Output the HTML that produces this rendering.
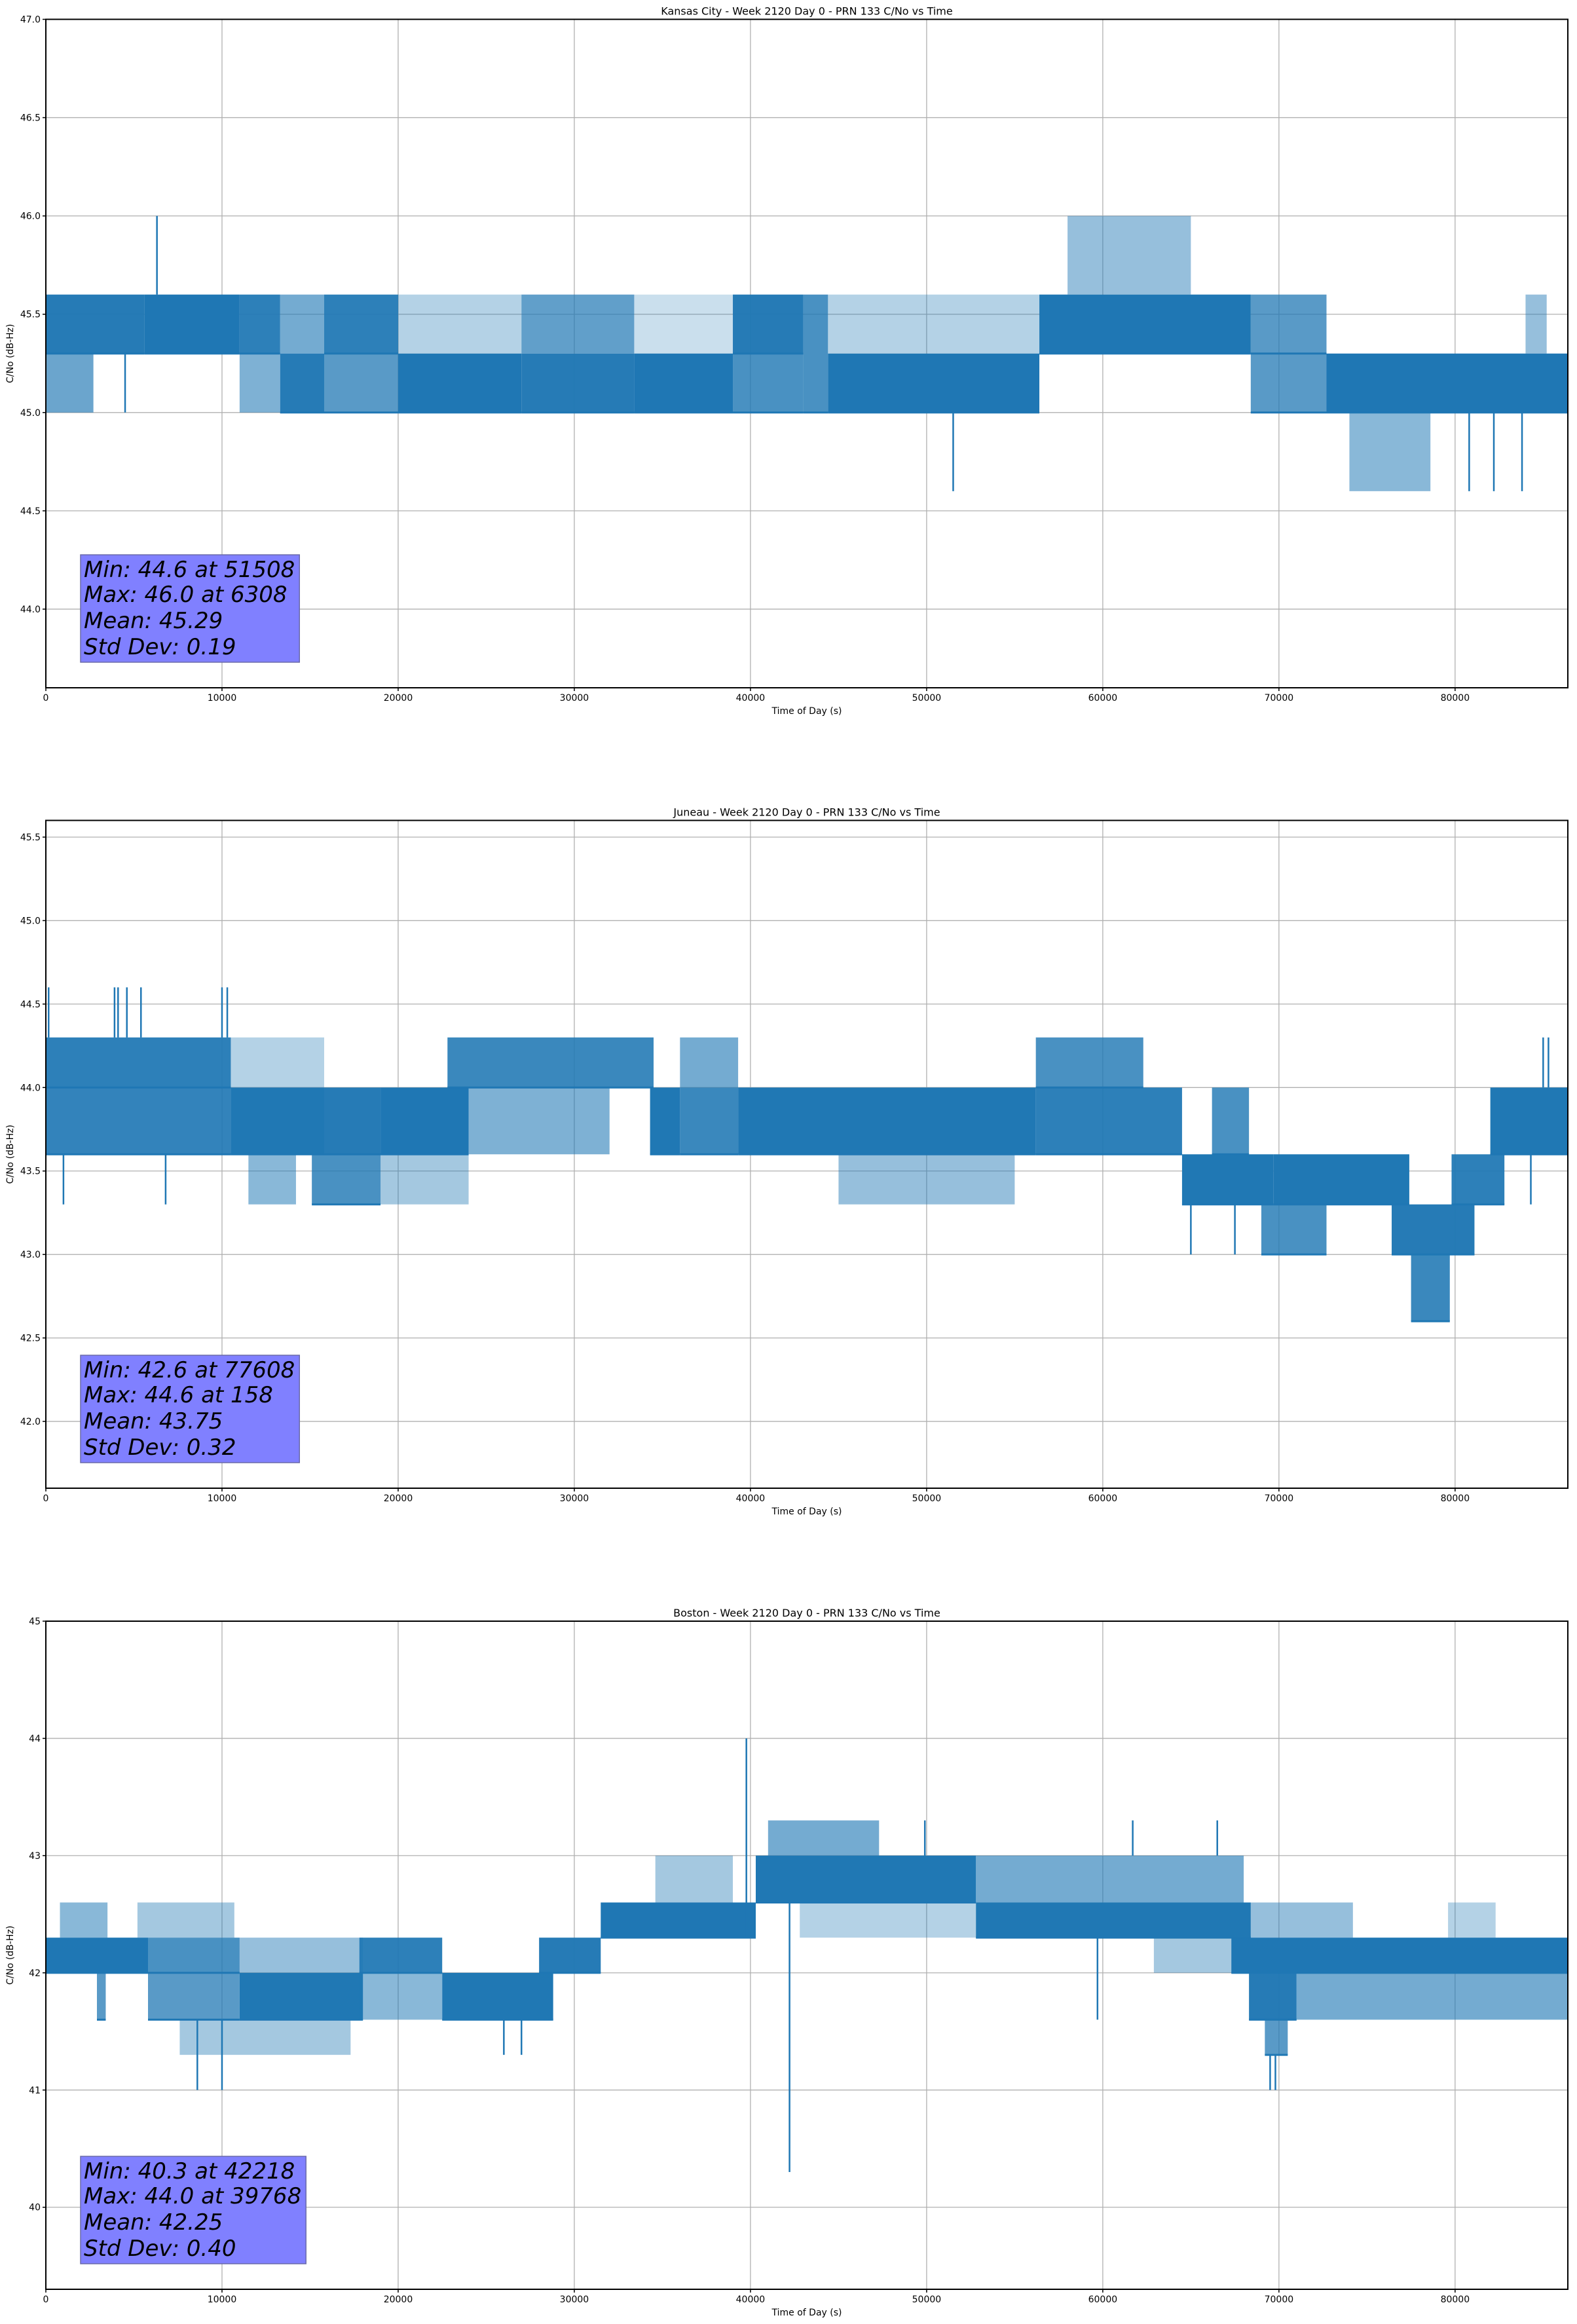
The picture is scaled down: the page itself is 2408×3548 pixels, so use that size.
<!DOCTYPE html>
<html><head><meta charset="utf-8">
<style>
html,body{margin:0;padding:0;background:#fff;}
svg{display:block;font-family:"DejaVu Sans","Liberation Sans",sans-serif;}
</style></head>
<body>
<svg id="fig" width="2408" height="3548" viewBox="0 0 2408 3548" xmlns="http://www.w3.org/2000/svg">
<rect width="2408" height="3548" fill="#fff"/>
</svg>
<script>
// ---------- Kansas City ----------
const p1Title = "Kansas City - Week 2120 Day 0 - PRN 133 C/No vs Time";
const p1SegStart = [0,0,5600,11000,11000,13300,13300,15800,15800,20000,20000,27000,27000,33400,33400,39000,39000,43000,44400,44400,56400,58000,68400,68400,72700,74000,84000];
const p1SegEnd   = [5600,2700,11000,13300,13300,15800,15800,20000,20000,27000,27000,33400,33400,39000,39000,43000,43000,44400,56400,56400,68400,65000,72700,72700,86400,78600,85200];
const p1SegLo    = [45.3,45.0,45.3,45.3,45.0,45.0,45.3,45.3,45.0,45.0,45.3,45.0,45.3,45.0,45.3,45.3,45.0,45.0,45.0,45.3,45.3,45.6,45.3,45.0,45.0,44.6,45.3];
const p1SegHi    = [45.6,45.3,45.6,45.6,45.3,45.3,45.6,45.6,45.3,45.3,45.6,45.3,45.6,45.3,45.6,45.6,45.3,45.6,45.3,45.6,45.6,46.0,45.6,45.3,45.3,45.0,45.6];
const p1SegDens  = [0.85,0.4,1,0.8,0.3,0.85,0.35,0.8,0.5,0.95,0.1,0.85,0.45,1,0.05,0.85,0.6,0.6,0.95,0.1,0.97,0.2,0.5,0.5,0.92,0.25,0.2];
const p1SpikeT    = [6308,4500,51508,80800,82200,83800];
const p1SpikeFrom = [45.6,45.3,45.0,45.0,45.0,45.0];
const p1SpikeTo   = [46.0,45.0,44.6,44.6,44.6,44.6];
const p1YTicks = ["44.0","44.5","45.0","45.5","46.0","46.5","47.0"];
const p1Stats = ["Min: 44.6 at 51508","Max: 46.0 at 6308","Mean: 45.29","Std Dev: 0.19"];

// ---------- Juneau ----------
const p2Title = "Juneau - Week 2120 Day 0 - PRN 133 C/No vs Time";
const p2SegStart = [0,0,10500,10500,11500,15100,15800,19000,19000,22800,24000,34300,36000,36000,39300,45000,56200,56200,64500,66200,69000,69700,76400,77500,79800,82000];
const p2SegEnd   = [10500,10500,15800,15800,14200,19000,19000,24000,24000,34500,32000,36000,39300,39300,56200,55000,62300,64500,69700,68300,72700,77400,81100,79700,82800,86400];
const p2SegLo    = [44.0,43.6,43.6,44.0,43.3,43.3,43.6,43.6,43.3,44.0,43.6,43.6,44.0,43.6,43.6,43.3,44.0,43.6,43.3,43.6,43.0,43.3,43.0,42.6,43.3,43.6];
const p2SegHi    = [44.3,44.0,44.0,44.3,43.6,43.6,44.0,44.0,43.6,44.3,44.0,44.0,44.3,44.0,44.0,43.6,44.3,44.0,43.6,44.0,43.3,43.6,43.3,43.0,43.6,44.0];
const p2SegDens  = [0.8,0.75,0.9,0.1,0.25,0.6,0.85,0.95,0.15,0.7,0.3,0.9,0.35,0.7,0.9,0.2,0.6,0.8,0.9,0.6,0.6,0.9,0.85,0.7,0.8,0.9];
const p2SpikeT    = [158,3900,4100,4600,5400,10000,10300,1000,6800,65000,67500,85000,85300,84300];
const p2SpikeFrom = [44.3,44.3,44.3,44.3,44.3,44.3,44.3,43.6,43.6,43.3,43.3,44.0,44.0,43.6];
const p2SpikeTo   = [44.6,44.6,44.6,44.6,44.6,44.6,44.6,43.3,43.3,43.0,43.0,44.3,44.3,43.3];
const p2YTicks = ["42.0","42.5","43.0","43.5","44.0","44.5","45.0","45.5"];
const p2Stats = ["Min: 42.6 at 77608","Max: 44.6 at 158","Mean: 43.75","Std Dev: 0.32"];

// ---------- Boston ----------
const p3Title = "Boston - Week 2120 Day 0 - PRN 133 C/No vs Time";
const p3SegStart = [0,800,2900,5800,5800,5200,7600,11000,11000,17800,17800,22500,28000,31500,34600,40300,41000,42800,52800,52800,62900,67300,68300,71000,68400,79600,69200];
const p3SegEnd   = [5800,3500,3400,11000,11000,10700,17300,18000,18000,22500,22500,28800,31500,40300,39000,52800,47300,52800,68400,68000,67600,86400,71000,86400,74200,82300,70500];
const p3SegLo    = [42.0,42.3,41.6,42.0,41.6,42.3,41.3,41.6,42.0,42.0,41.6,41.6,42.0,42.3,42.6,42.6,43.0,42.3,42.3,42.6,42.0,42.0,41.6,41.6,42.3,42.3,41.3];
const p3SegHi    = [42.3,42.6,42.0,42.3,42.0,42.6,41.6,42.0,42.3,42.3,42.0,42.0,42.3,42.6,43.0,43.0,43.3,42.6,42.6,43.0,42.3,42.3,42.0,42.0,42.6,42.6,41.6];
const p3SegDens  = [0.95,0.25,0.5,0.6,0.5,0.15,0.15,0.9,0.2,0.8,0.25,0.9,0.85,0.92,0.15,0.9,0.35,0.1,0.9,0.35,0.15,0.92,0.85,0.35,0.2,0.1,0.5];
const p3SpikeT    = [39768,42218,8600,10000,26000,27000,69500,69800,59700,49900,61700,66500];
const p3SpikeFrom = [42.3,42.6,41.6,41.6,41.6,41.6,41.3,41.3,42.3,43.0,43.0,43.0];
const p3SpikeTo   = [44.0,40.3,41.0,41.0,41.3,41.3,41.0,41.0,41.6,43.3,43.3,43.3];
const p3YTicks = ["40","41","42","43","44","45"];
const p3Stats = ["Min: 40.3 at 42218","Max: 44.0 at 39768","Mean: 42.25","Std Dev: 0.40"];

const xTicks = [0,10000,20000,30000,40000,50000,60000,70000,80000];
const xMax = 86400;

const NS = "http://www.w3.org/2000/svg";
const svg = document.getElementById('fig');
function mk(tag, attrs, parent){
  const e = document.createElementNS(NS, tag);
  for (const k in attrs) e.setAttribute(k, attrs[k]);
  (parent||svg).appendChild(e);
  return e;
}

function drawPlot(cfg){
  const L = 70, R = 2394, T = cfg.top, B = cfg.bottom;
  const sx = v => L + (v / xMax) * (R - L);
  const sy = v => B - (v - cfg.ymin) / (cfg.ymax - cfg.ymin) * (B - T);
  const g = mk('g', {});
  
  
  xTicks.forEach(t => {
    const l = mk('line', {x1:sx(t), x2:sx(t), y1:T, y2:B, stroke:'#b0b0b0', 'stroke-width':1.3}, g);
    
    
  });
  cfg.yTicks.forEach(t => {
    const v = parseFloat(t);
    const l = mk('line', {x1:L, x2:R, y1:sy(v), y2:sy(v), stroke:'#b0b0b0', 'stroke-width':1.3}, g);
    
    
  });
  const dg = mk('g', {}, g);
  
  
  for (let i = 0; i < cfg.segStart.length; i++){
    const x0 = sx(cfg.segStart[i]), x1 = sx(cfg.segEnd[i]);
    const y0 = sy(cfg.segHi[i]), y1 = sy(cfg.segLo[i]);
    const op = Math.min(1, Math.sqrt(cfg.segDens[i]) * 1.05);
    const r = mk('rect', {x:x0, y:y0, width:Math.max(1,x1-x0), height:Math.max(1,y1-y0), fill:'#1f77b4', 'fill-opacity':op}, dg);
    
    
  }
  for (let i = 0; i < cfg.segStart.length; i++){
    if (cfg.segDens[i] < 0.5) continue;
    const yb = sy(cfg.segLo[i]);
    const l = mk('line', {x1:sx(cfg.segStart[i]), x2:sx(cfg.segEnd[i]), y1:yb, y2:yb, stroke:'#1f77b4', 'stroke-width':3}, dg);
    
    
  }
  for (let i = 0; i < cfg.spikeT.length; i++){
    const x = sx(cfg.spikeT[i]);
    const l = mk('line', {x1:x, x2:x, y1:sy(cfg.spikeFrom[i]), y2:sy(cfg.spikeTo[i]), stroke:'#1f77b4', 'stroke-width':2.5}, dg);
    
    
  }
  const sp = mk('rect', {x:L, y:T, width:R-L, height:B-T, fill:'none', stroke:'#000', 'stroke-width':2}, g);
  
  
  xTicks.forEach(t => {
    mk('line', {x1:sx(t), x2:sx(t), y1:B, y2:B+5, stroke:'#000', 'stroke-width':1.5}, g);
    const tx = mk('text', {x:sx(t), y:B+20, 'font-size':14, 'text-anchor':'middle', fill:'#000'}, g);
    tx.textContent = t;
    
    
  });
  cfg.yTicks.forEach(t => {
    const v = parseFloat(t);
    mk('line', {x1:L-5, x2:L, y1:sy(v), y2:sy(v), stroke:'#000', 'stroke-width':1.5}, g);
    const tx = mk('text', {x:L-8, y:sy(v)+5, 'font-size':14, 'text-anchor':'end', fill:'#000'}, g);
    tx.textContent = t;
    
    
  });
  const ti = mk('text', {x:(L+R)/2, y:T-7, 'font-size':16, 'text-anchor':'middle', fill:'#000'}, g);
  ti.textContent = cfg.title;
  
  
  const xl = mk('text', {x:(L+R)/2, y:B+40, 'font-size':14, 'text-anchor':'middle', fill:'#000'}, g);
  xl.textContent = 'Time of Day (s)';
  
  
  const yc = (T+B)/2;
  const yl = mk('text', {x:20, y:yc, 'font-size':14, 'text-anchor':'middle', fill:'#000', transform:'rotate(-90 20 '+yc+')'}, g);
  yl.textContent = 'C/No (dB-Hz)';
  
  
  const bg = mk('g', {}, g);
  
  
  const box = mk('rect', {x:123, y:B-203, width:340, height:164, fill:'#8080ff', stroke:'#6a6aa8', 'stroke-width':1.5}, bg);
  const offs = [169,131,91,51];
  let maxW = 0;
  cfg.stats.forEach((s, i) => {
    const t = mk('text', {x:128, y:B-offs[i], 'font-size':34, 'font-style':'italic', fill:'#000'}, bg);
    t.textContent = s;
    
    
    maxW = Math.max(maxW, t.getComputedTextLength());
  });
  if (maxW > 0) box.setAttribute('width', maxW + 12);
}

drawPlot({name:'kansas-city', title:p1Title, top:29.5, bottom:1050, ymin:43.6, ymax:47.0, yTicks:p1YTicks,
  segStart:p1SegStart, segEnd:p1SegEnd, segLo:p1SegLo, segHi:p1SegHi, segDens:p1SegDens,
  spikeT:p1SpikeT, spikeFrom:p1SpikeFrom, spikeTo:p1SpikeTo, stats:p1Stats});
drawPlot({name:'juneau', title:p2Title, top:1252.5, bottom:2272, ymin:41.6, ymax:45.6, yTicks:p2YTicks,
  segStart:p2SegStart, segEnd:p2SegEnd, segLo:p2SegLo, segHi:p2SegHi, segDens:p2SegDens,
  spikeT:p2SpikeT, spikeFrom:p2SpikeFrom, spikeTo:p2SpikeTo, stats:p2Stats});
drawPlot({name:'boston', title:p3Title, top:2475, bottom:3495, ymin:39.3, ymax:45.0, yTicks:p3YTicks,
  segStart:p3SegStart, segEnd:p3SegEnd, segLo:p3SegLo, segHi:p3SegHi, segDens:p3SegDens,
  spikeT:p3SpikeT, spikeFrom:p3SpikeFrom, spikeTo:p3SpikeTo, stats:p3Stats});
</script>
</body></html>
